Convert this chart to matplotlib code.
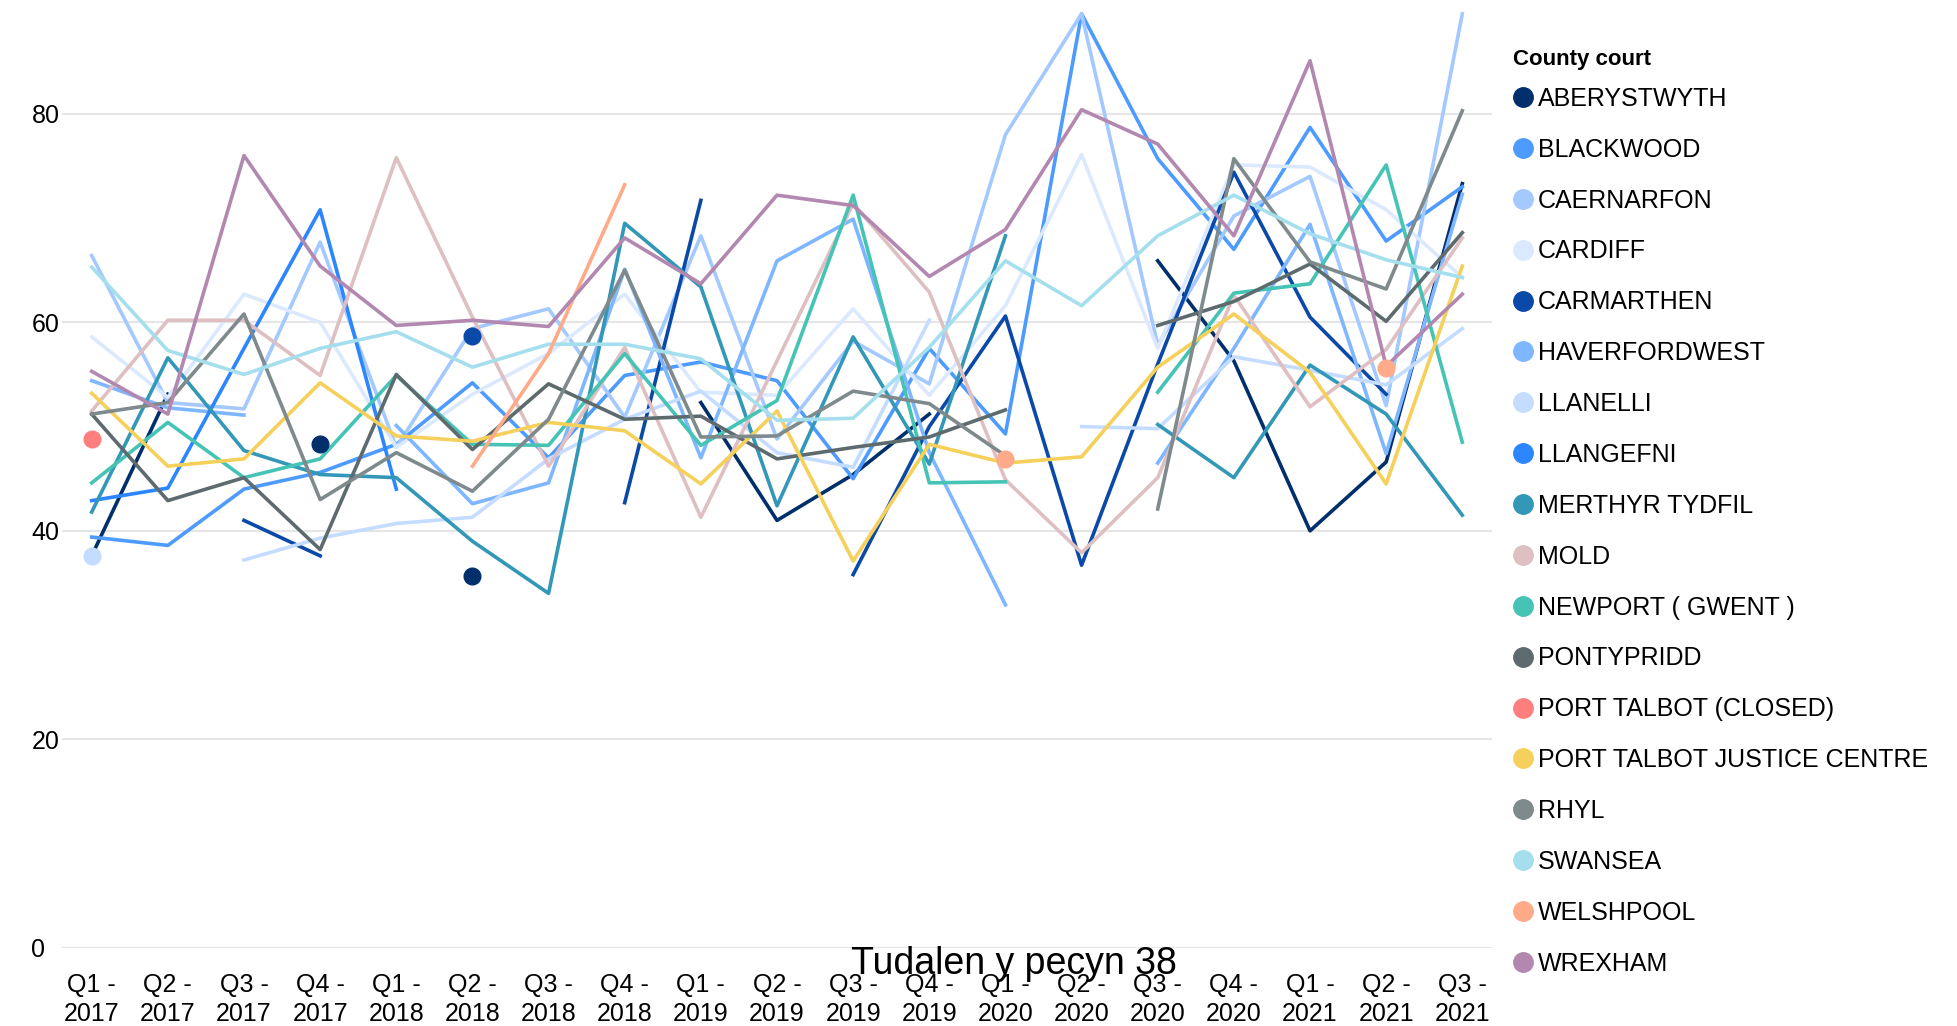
import numpy as np
import matplotlib.pyplot as plt
from matplotlib.lines import Line2D

nan = np.nan

quarters = ['Q1 -\n2017', 'Q2 -\n2017', 'Q3 -\n2017', 'Q4 -\n2017',
            'Q1 -\n2018', 'Q2 -\n2018', 'Q3 -\n2018', 'Q4 -\n2018',
            'Q1 -\n2019', 'Q2 -\n2019', 'Q3 -\n2019', 'Q4 -\n2019',
            'Q1 -\n2020', 'Q2 -\n2020', 'Q3 -\n2020', 'Q4 -\n2020',
            'Q1 -\n2021', 'Q2 -\n2021', 'Q3 -\n2021']

courts = ['ABERYSTWYTH', 'BLACKWOOD', 'CAERNARFON', 'CARDIFF', 'CARMARTHEN',
          'HAVERFORDWEST', 'LLANELLI', 'LLANGEFNI', 'MERTHYR TYDFIL', 'MOLD',
          'NEWPORT ( GWENT )', 'PONTYPRIDD', 'PORT TALBOT (CLOSED)',
          'PORT TALBOT JUSTICE CENTRE', 'RHYL', 'SWANSEA', 'WELSHPOOL', 'WREXHAM']

colors = ['#002f6c', '#4e9bff', '#a3c9ff', '#dbe9ff', '#0a49a8',
          '#7eb6ff', '#c4dcff', '#2b86ff', '#3398b8', '#dfc0c2',
          '#45c4b5', '#5e6b6e', '#ff7f7f',
          '#f5d05a', '#7f8a8c', '#a5dfee', '#ffaa88', '#b388b0']

aberystwyth = [37.6, 53.1, nan, 48.3, nan, 35.7, nan, nan, 52.3, 41.0, 45.4, 51.2, nan, nan, 65.9, 56.3, 40.0, 46.6, 73.3]
blackwood = [39.4, 38.6, 44.0, 45.6, 48.3, 54.2, 47.0, 54.9, 56.2, 54.4, 45.0, 57.5, 49.3, 89.6, 75.7, 67.0, 78.7, 67.8, 73.0]
caernarfon = [66.4, 52.3, 51.7, 67.7, 48.0, 59.4, 61.3, 50.9, 68.3, 48.8, 58.2, 54.1, 78.0, 89.6, 57.8, 70.2, 74.0, 52.0, 89.6]
cardiff = [58.6, 52.8, 62.7, 60.0, 48.0, 53.1, 57.0, 62.7, 53.3, 53.0, 61.3, 53.0, 61.6, 76.1, 57.5, 75.1, 74.9, 70.8, 64.3]
carmarthen = [nan, nan, 41.0, 37.6, nan, 58.7, nan, 42.7, 71.7, nan, 35.8, 50.0, 60.6, 36.7, 56.0, 74.4, 60.5, 53.1, nan]
haverfordwest = [54.4, 51.8, 51.1, nan, 50.1, 42.6, 44.6, 65.1, 47.0, 65.9, 69.9, 47.5, 32.9, nan, 46.5, 57.5, 69.4, 47.4, 72.3]
llanelli = [37.6, nan, 37.2, 39.3, 40.7, 41.3, 46.9, 50.7, 53.4, 47.5, 46.1, 60.2, nan, 50.0, 49.8, 56.7, 55.4, 54.0, 59.4]
llangefni = [42.9, 44.1, 57.5, 70.8, 44.0, nan, nan, nan, nan, nan, nan, nan, nan, nan, nan, nan, nan, nan, nan]
merthyr = [41.8, 56.6, 47.7, 45.4, 45.1, 39.0, 34.0, 69.5, 63.4, 42.4, 58.6, 46.4, 68.3, nan, 50.2, 45.1, 55.9, 51.2, 41.5]
mold = [51.5, 60.2, 60.2, 54.9, 75.8, 60.5, 46.2, 57.6, 41.3, 56.3, 71.4, 62.9, 44.9, 37.9, 45.1, 62.6, 51.9, 57.4, 68.1]
newport = [44.6, 50.4, 45.1, 46.9, 54.9, 48.3, 48.2, 57.0, 48.2, 52.5, 72.2, 44.6, 44.7, nan, 53.3, 62.8, 63.7, 75.1, 48.5]
pontypridd = [51.2, 42.9, 45.1, 38.2, 55.0, 47.8, 54.1, 50.7, 51.0, 46.9, 48.0, 49.0, 51.6, nan, 59.7, 62.0, 65.6, 60.1, 68.6]
port_talbot_closed = [48.8, nan, nan, nan, nan, nan, nan, nan, nan, nan, nan, nan, nan, nan, nan, nan, nan, nan, nan]
port_talbot_jc = [53.2, 46.2, 46.9, 54.2, 49.1, 48.6, 50.4, 49.6, 44.5, 51.5, 37.1, 48.3, 46.5, 47.1, 55.7, 60.8, 55.2, 44.5, 65.4]
rhyl = [51.2, 52.3, 60.8, 43.0, 47.5, 43.8, 50.7, 65.0, 49.0, 49.1, 53.4, 52.2, 47.2, nan, 42.1, 75.7, 65.8, 63.2, 80.3]
swansea = [65.3, 57.3, 55.0, 57.5, 59.1, 55.7, 57.9, 57.9, 56.5, 50.6, 50.8, 57.6, 65.9, 61.6, 68.3, 72.2, 68.5, 66.0, 64.3]
welshpool = [nan, nan, nan, nan, nan, 46.2, 57.0, 73.2, nan, nan, nan, nan, 46.9, nan, nan, nan, nan, 55.6, nan]
wrexham = [55.3, 51.2, 76.0, 65.4, 59.7, 60.2, 59.6, 68.1, 63.7, 72.2, 71.2, 64.4, 68.9, 80.4, 77.1, 68.3, 85.1, 55.8, 62.7]

series = [aberystwyth, blackwood, caernarfon, cardiff, carmarthen, haverfordwest,
          llanelli, llangefni, merthyr, mold, newport, pontypridd,
          port_talbot_closed, port_talbot_jc, rhyl, swansea, welshpool, wrexham]

plt.rcParams['font.family'] = ['Liberation Sans', 'DejaVu Sans']

W, H = 1958, 1026
fig = plt.figure(figsize=(W / 100, H / 100), dpi=100)
ax = fig.add_axes([62 / W, 1 - 947.8 / H, (1492 - 62) / W, (947.8 - 9.6) / H])

x = np.arange(len(quarters))
for name, vals, c in zip(courts, series, colors):
    y = np.array(vals, dtype=float)
    ax.plot(x, y, color=c, lw=2.6, zorder=3)
    # points with no neighbour on either side show up as dots
    prev = np.concatenate([[nan], y[:-1]])
    nxt = np.concatenate([y[1:], [nan]])
    iso = ~np.isnan(y) & np.isnan(prev) & np.isnan(nxt)
    ax.plot(x[iso], y[iso], 'o', color=c, ms=12, zorder=4)

ax.set_xlim(-0.39, len(quarters) - 1 + 0.39)
ax.set_ylim(0, 90)
ax.set_yticks([0, 20, 40, 60, 80])
ax.set_xticks(x)
ax.set_xticklabels(quarters, fontsize=18, linespacing=1.28)
for lab in ax.get_yticklabels():
    lab.set_fontsize(18)
    lab.set_horizontalalignment('left')
ax.tick_params(axis='both', length=0)
ax.tick_params(axis='x', pad=18)
ax.tick_params(axis='y', pad=22)
ax.grid(axis='y', color='#e6e6e6', lw=1.5, zorder=0)
for s in ax.spines.values():
    s.set_visible(False)

fig.text(1513 / W, 1 - 59.3 / H, 'County court', ha='left', va='center',
         fontsize=16, fontweight='bold')
handles = [Line2D([], [], marker='o', ls='', color=c, ms=14) for c in colors]
leg = ax.legend(handles, courts, loc='upper left',
                bbox_to_anchor=(1511.75 / W, 1 - 86.8 / H), bbox_transform=fig.transFigure,
                frameon=False, fontsize=18,
                labelspacing=1.075, handletextpad=0.15, handlelength=0.9,
                borderpad=0, borderaxespad=0)

fig.text(1014 / W, 1 - 964 / H, 'Tudalen y pecyn 38', ha='center', va='center',
         fontsize=27, family=['Liberation Sans Narrow', 'Liberation Sans'])

fig.savefig('out.png', dpi=100)
